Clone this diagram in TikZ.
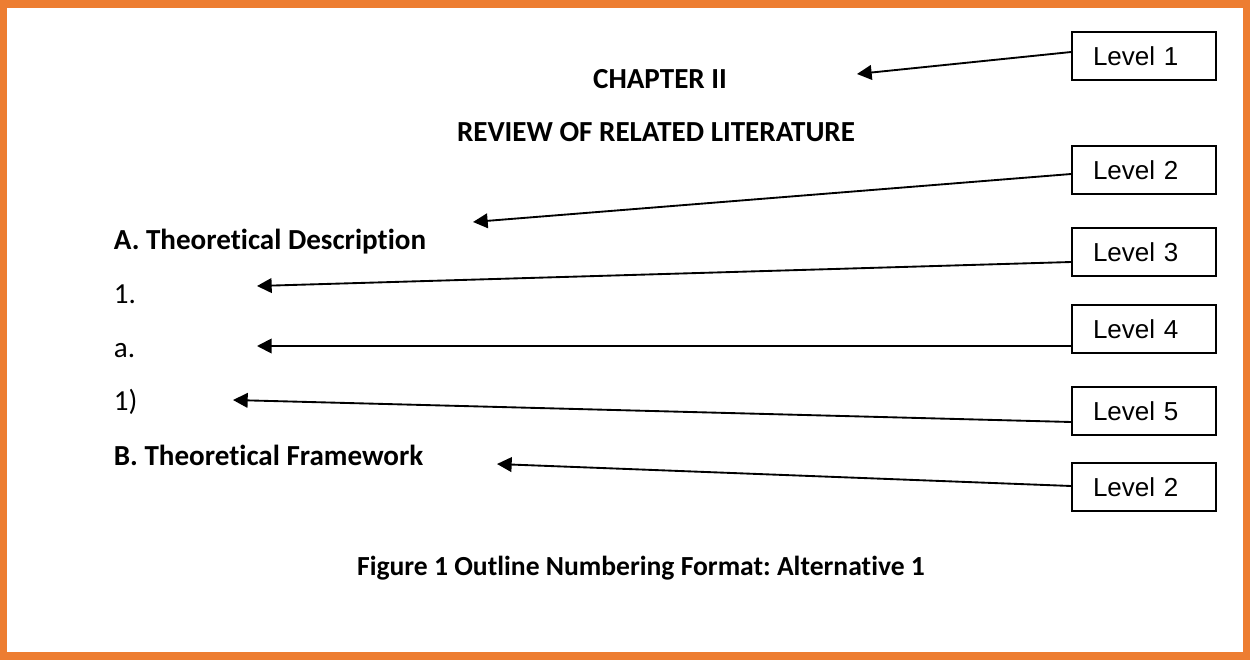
\documentclass[tikz,border=0pt]{standalone}
\usepackage{fontspec}
\setmainfont[Ligatures=NoCommon]{Carlito}
\newfontfamily\boxfont{Liberation Sans}
\usetikzlibrary{arrows.meta}
\definecolor{frameorange}{HTML}{ED7D31}
\frenchspacing

\begin{document}
\begin{tikzpicture}[x=0.75pt, y=-0.75pt, ->, >={Triangle[length=11pt, width=11pt]},
                  line width=1.4pt,
                  txt/.style={inner sep=0pt, font=\fontsize{21.8}{26}\selectfont},
                  head/.style={txt, font=\fontsize{21.8}{26}\selectfont\bfseries},
                  lvl/.style={draw, -, line width=1.2pt, minimum width=144*0.75pt,
                      minimum height=48*0.75pt, text width=102*0.75pt, align=left,
                      inner xsep=21*0.75pt, font=\boxfont\fontsize{19.5}{22}\selectfont}]

                  % Marco naranja.
                  \useasboundingbox (0,0) rectangle (1250,660);
                  \draw[-, frameorange, line width=5.6pt] (3.5,4) rectangle (1246.5,656);

                  % Titulos y esquema de la pagina.
                  \node[head, anchor=base] (chap) at (660,89) {CHAPTER II};
                  \node[head, anchor=base] (review) at (656,142) {REVIEW OF RELATED LITERATURE};
                  \node[head, anchor=base west] (secA) at (113,249) {A. Theoretical Description};
                  \node[txt, anchor=base west] (num) at (113,303) {1.};
                  \node[txt, anchor=base west] (let) at (113,357) {a.};
                  \node[txt, anchor=base west] (par) at (113,410) {1)};
                  \node[head, anchor=base west] (secB) at (113,465) {B. Theoretical Framework};
                  \node[head, anchor=base, font=\fontsize{20.7}{25}\selectfont\bfseries] (caption)
                  at (641,575) {Figure 1 Outline Numbering Format: Alternative 1};

                  % Cajas de los niveles.
                  \node[lvl] (l1) at (1144,56) {Level 1};
                  \node[lvl] (l2) at (1144,170) {Level 2};
                  \node[lvl] (l3) at (1144,252) {Level 3};
                  \node[lvl] (l4) at (1144,329) {Level 4};
                  \node[lvl] (l5) at (1144,411) {Level 5};
                  \node[lvl] (l2b) at (1144,487) {Level 2};

                  % Puntas de las flechas.
                  \coordinate (t1) at (857,74);
                  \coordinate (t2) at (473,222);
                  \coordinate (t3) at (257,286);
                  \coordinate (t4) at (257,346);
                  \coordinate (t5) at (233,400);
                  \coordinate (t2b) at (497,464);

                  % Flechas de cada nivel.
                  \draw ([yshift=3pt]l1.west) -- (t1);
                  \draw ([yshift=-3pt]l2.west) -- (t2);
                  \draw ([yshift=-7.5pt]l3.west) -- (t3);
                  \draw ([yshift=-12.75pt]l4.west) -- (t4);
                  \draw ([yshift=-8.25pt]l5.west) -- (t5);
                  \draw ([yshift=0.75pt]l2b.west) -- (t2b);

                \end{tikzpicture}
\end{document}
